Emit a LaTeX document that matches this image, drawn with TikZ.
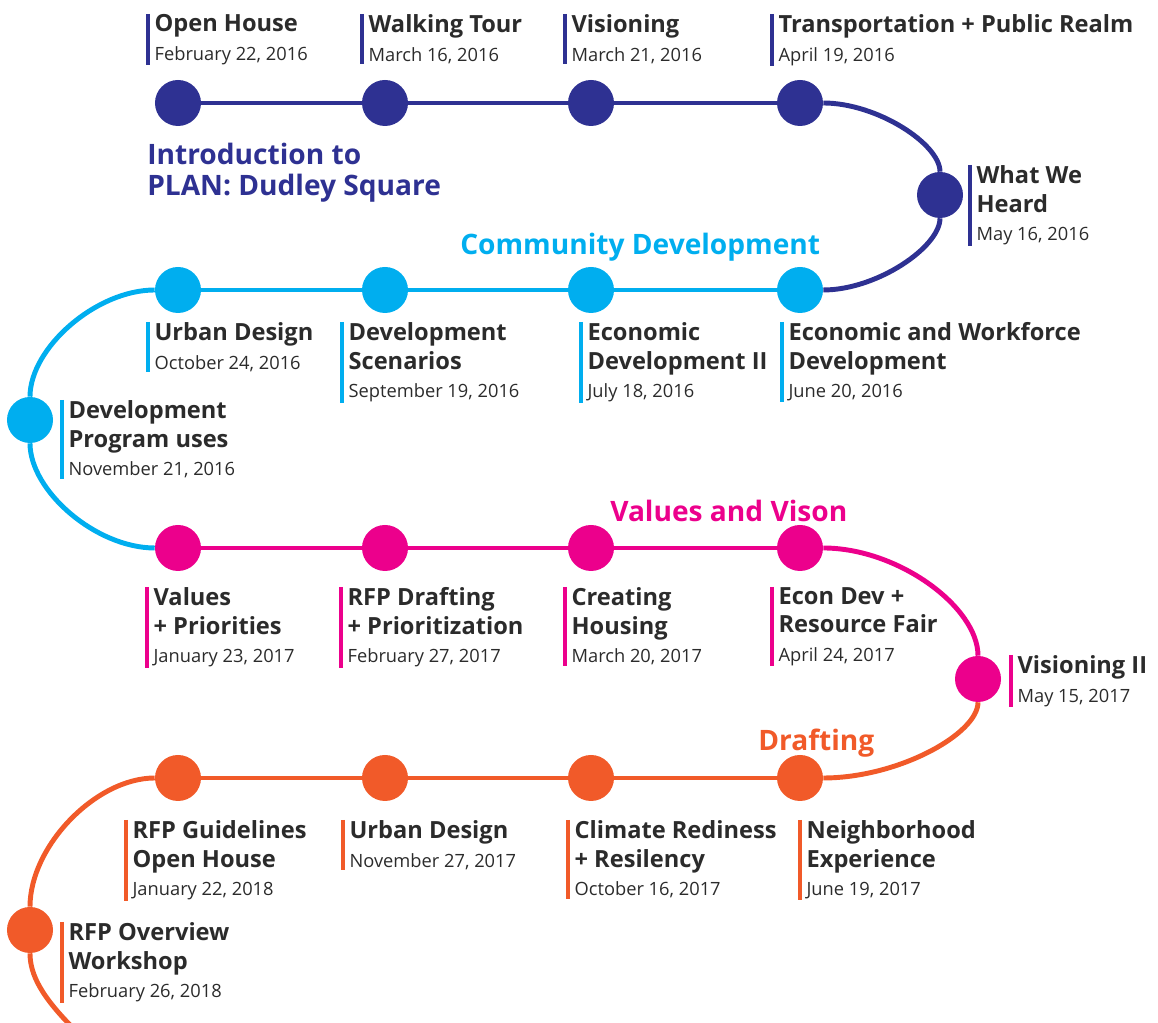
\documentclass[tikz,border=0pt]{standalone}
\usepackage{fontspec}
\setmainfont{Open Sans}
\definecolor{navy}{HTML}{2E3192}
\definecolor{sky}{HTML}{00AEEF}
\definecolor{pink}{HTML}{EC008C}
\definecolor{flame}{HTML}{F15A29}
\definecolor{ink}{HTML}{2B2B2B}
\newcommand\dt[1]{{\mdseries\fontsize{13}{16}\selectfont #1}}
\tikzset{
  dot/.style={circle,fill=#1,minimum size=1.15cm,inner sep=0pt},
  link/.style={draw=#1,line width=3.5pt},
  lbl/.style={anchor=north west,align=left,inner xsep=4.5pt,inner ysep=0pt,text=ink,
    font=\bfseries\fontsize{16.8}{20.5}\selectfont,
    append after command={(\tikzlastnode.north west) edge[draw=#1,line width=2.6pt] (\tikzlastnode.south west)}},
  phase/.style={text=#1,align=left,inner sep=0pt,font=\bfseries\fontsize{20}{22}\selectfont}
}
\begin{document}
\begin{tikzpicture}[x=0.025cm,y=0.025cm]
  \useasboundingbox (0,0) rectangle (1158,1023);
  % dots, row by row
  \foreach\n/\X in {1/178,2/385,3/591,4/800} {\node[dot=navy] (a\n) at (\X,920) {};}
  \node[dot=navy] (a5) at (940,828) {};
  \foreach\n/\X in {1/800,2/591,3/385,4/178} {\node[dot=sky] (b\n) at (\X,733) {};}
  \node[dot=sky] (b5) at (30,603) {};
  \foreach\n/\X in {1/178,2/385,3/591,4/800} {\node[dot=pink] (c\n) at (\X,475) {};}
  \node[dot=pink] (c5) at (978,344) {};
  \foreach\n/\X in {1/800,2/591,3/385,4/178} {\node[dot=flame] (d\n) at (\X,245) {};}
  \node[dot=flame] (d5) at (30,93) {};
  \coordinate (dend) at (74,-6);

  % connectors
  \foreach\i/\j in {1/2,2/3,3/4} {%
    \draw[link=navy] (a\i) -- (a\j);
    \draw[link=sky] (b\i) -- (b\j);
    \draw[link=pink] (c\i) -- (c\j);
    \draw[link=flame] (d\i) -- (d\j);
  }
  \draw[link=navy] (a4) .. controls +(77,0) and +(0,51) .. (a5);
  \draw[link=navy] (a5) .. controls +(0,-52) and +(77,0) .. (b1);
  \draw[link=sky] (b4) .. controls +(-82,0) and +(0,72) .. (b5);
  \draw[link=sky] (b5) .. controls +(0,-71) and +(-82,0) .. (c1);
  \draw[link=pink] (c4) .. controls +(98,0) and +(0,72) .. (c5);
  \draw[link=flame] (c5) .. controls +(0,-55) and +(98,0) .. (d1);
  \draw[link=flame] (d4) .. controls +(-82,0) and +(0,84) .. (d5);
  \draw[link=flame] (d5) .. controls +(0,-45) and +(-32,32) .. (dend);

  % phase titles
  \node[phase=navy,anchor=north west] (p1) at (147,880) {Introduction to\\PLAN: Dudley Square};
  \node[phase=sky,anchor=west] (p2) at (460,776) {Community Development};
  \node[phase=pink,anchor=west] (p3) at (610,512) {Values and Vison};
  \node[phase=flame,anchor=west] (p4) at (758,280) {Drafting};

  % meetings
  \node[lbl=navy] (l1) at (148,1009) {Open House\\\dt{February 22, 2016}};
  \node[lbl=navy] (l2) at (362,1009) {Walking Tour\\\dt{March 16, 2016}};
  \node[lbl=navy] (l3) at (565,1009) {Visioning\\\dt{March 21, 2016}};
  \node[lbl=navy] (l4) at (772,1009) {Transportation + Public Realm\\\dt{April 19, 2016}};
  \node[lbl=navy] (l5) at (970,858) {What We\\Heard\\\dt{May 16, 2016}};

  \node[lbl=sky] (m1) at (782,701) {Economic and Workforce\\Development\\\dt{June 20, 2016}};
  \node[lbl=sky] (m2) at (581,701) {Economic\\Development II\\\dt{July 18, 2016}};
  \node[lbl=sky] (m3) at (342,701) {Development\\Scenarios\\\dt{September 19, 2016}};
  \node[lbl=sky] (m4) at (148,701) {Urban Design\\\dt{October 24, 2016}};
  \node[lbl=sky] (m5) at (62,623) {Development\\Program uses\\\dt{November 21, 2016}};

  \node[lbl=pink] (n1) at (147,436) {Values\\+ Priorities\\\dt{January 23, 2017}};
  \node[lbl=pink] (n2) at (341,436) {RFP Drafting\\+ Prioritization\\\dt{February 27, 2017}};
  \node[lbl=pink] (n3) at (565,436) {Creating\\Housing\\\dt{March 20, 2017}};
  \node[lbl=pink] (n4) at (772,436) {Econ Dev +\\Resource Fair\\\dt{April 24, 2017}};
  \node[lbl=pink] (n5) at (1011,368) {Visioning II\\\dt{May 15, 2017}};

  \node[lbl=flame] (o1) at (800,203) {Neighborhood\\Experience\\\dt{June 19, 2017}};
  \node[lbl=flame] (o2) at (568,203) {Climate Rediness\\+ Resilency\\\dt{October 16, 2017}};
  \node[lbl=flame] (o3) at (343,203) {Urban Design\\\dt{November 27, 2017}};
  \node[lbl=flame] (o4) at (126,203) {RFP Guidelines\\Open House\\\dt{January 22, 2018}};
  \node[lbl=flame] (o5) at (62,101) {RFP Overview\\Workshop\\\dt{February 26, 2018}};
\end{tikzpicture}
\end{document}
